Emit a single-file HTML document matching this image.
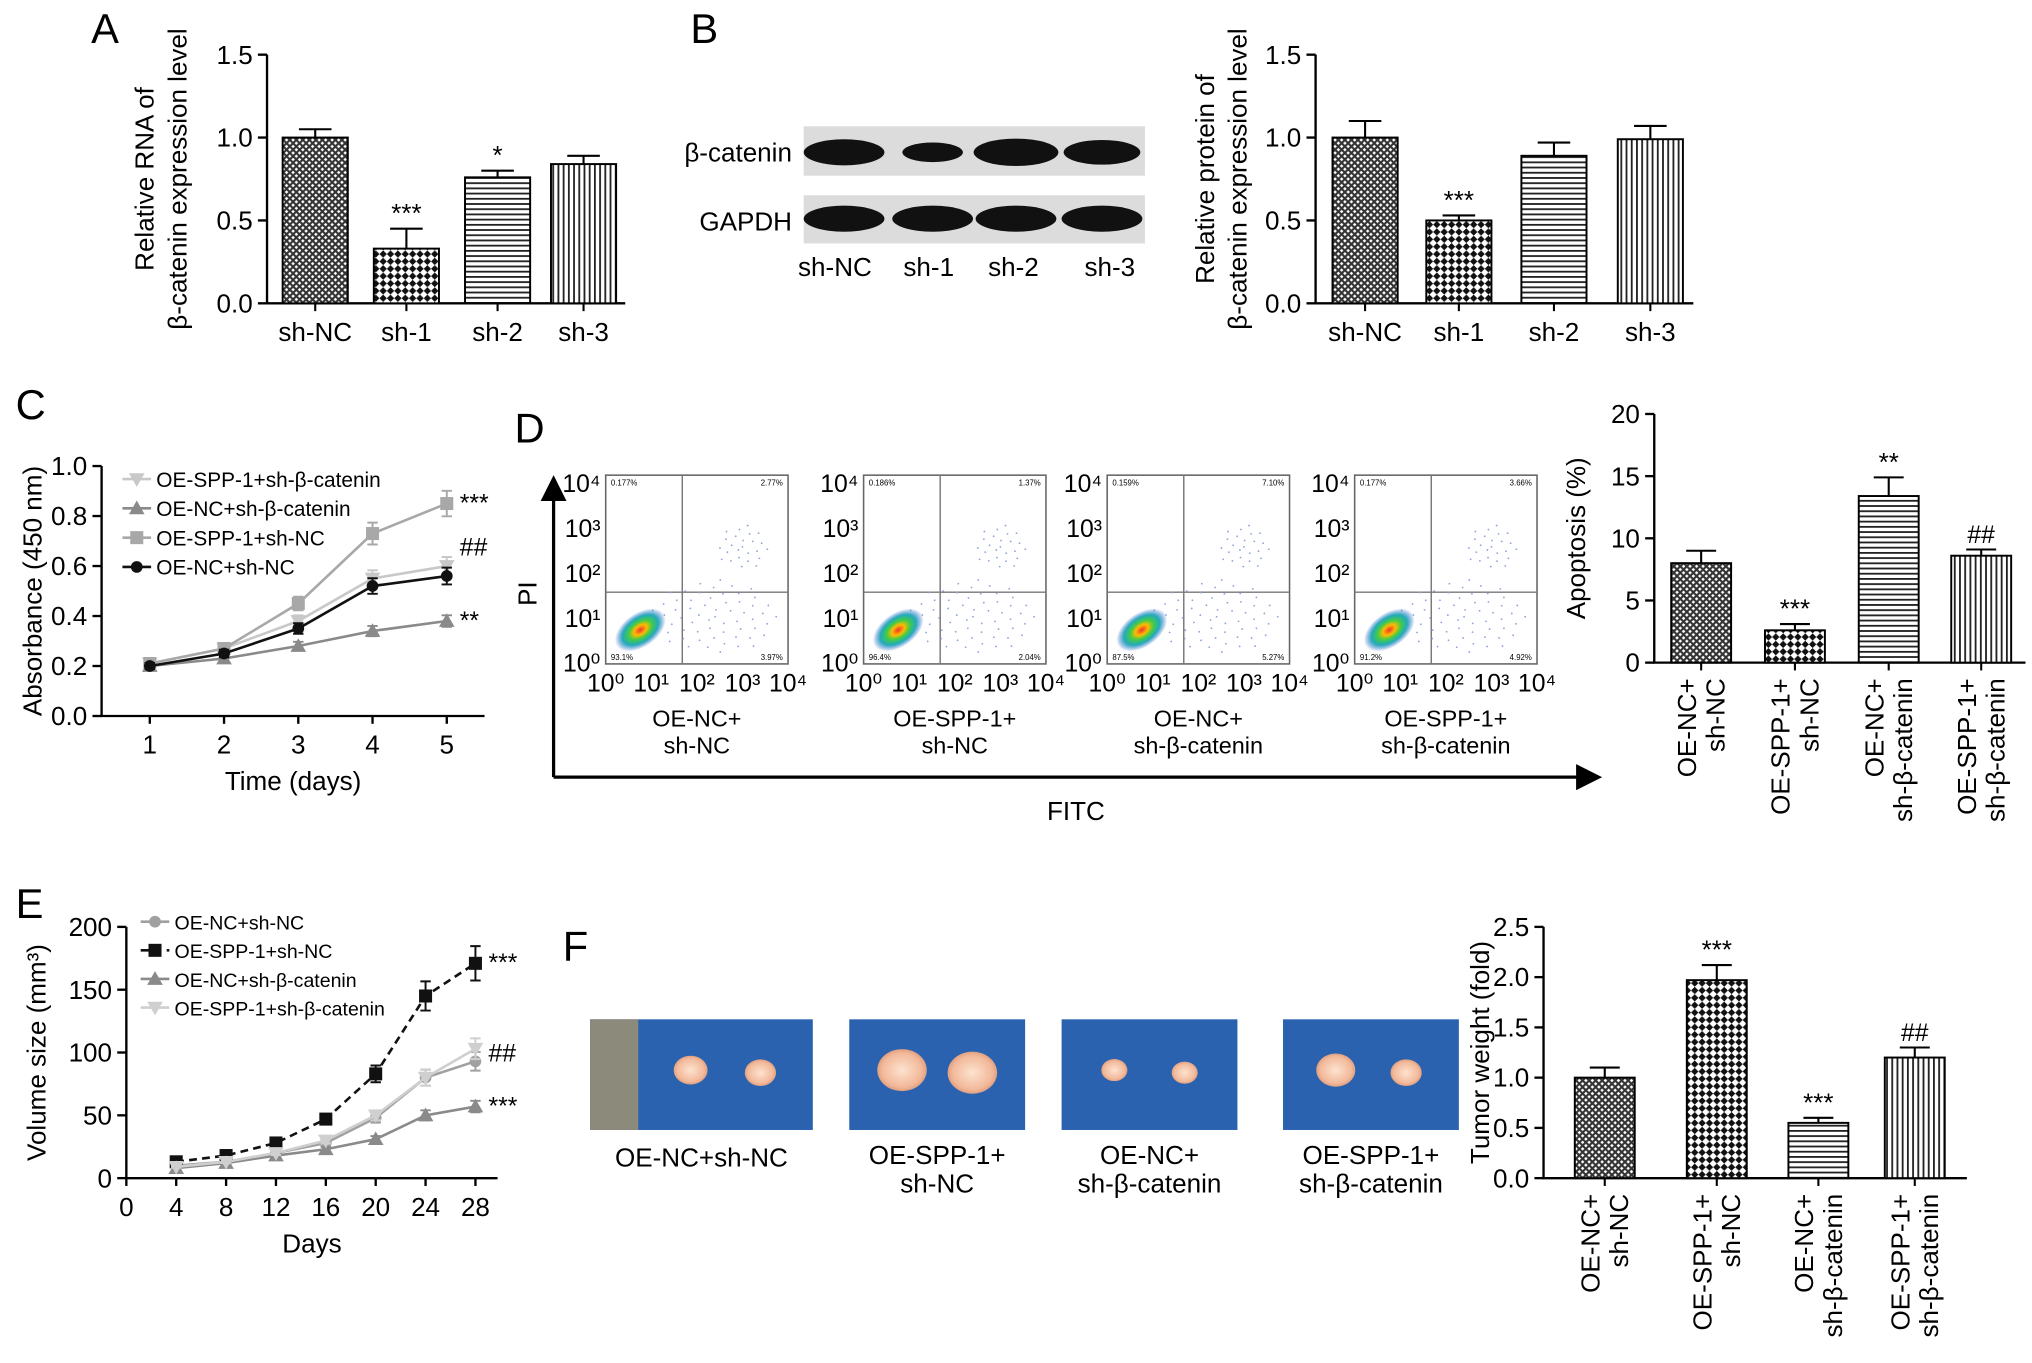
<!DOCTYPE html>
<html><head><meta charset="utf-8"><style>
html,body{margin:0;padding:0;background:#fff;}
svg{display:block;font-family:"Liberation Sans",Arial,sans-serif;}
</style></head><body>
<svg id="fig" width="2032" height="1363" viewBox="0 0 1560 1047" preserveAspectRatio="none" xmlns="http://www.w3.org/2000/svg">
<defs>
<pattern id="pCross" width="5" height="5" patternUnits="userSpaceOnUse"><rect width="5" height="5" fill="#fff"/><path d="M0 0L5 5M5 0L0 5" stroke="#333" stroke-width="1.6"/></pattern>
<pattern id="pCheck" width="8" height="8" patternUnits="userSpaceOnUse" patternTransform="rotate(45)"><rect width="8" height="8" fill="#fff"/><rect width="4" height="4" fill="#111"/><rect x="4" y="4" width="4" height="4" fill="#111"/></pattern>
<pattern id="pHor" width="4" height="4" patternUnits="userSpaceOnUse"><rect width="4" height="4" fill="#fff"/><rect width="4" height="1.4" fill="#222"/></pattern>
<pattern id="pVer" width="4" height="4" patternUnits="userSpaceOnUse"><rect width="4" height="4" fill="#fff"/><rect width="1.4" height="4" fill="#222"/></pattern>
<radialGradient id="gDot"><stop offset="0" stop-color="#e33"/><stop offset="0.25" stop-color="#fb0"/><stop offset="0.45" stop-color="#4c4"/><stop offset="0.7" stop-color="#2ab"/><stop offset="1" stop-color="#36c" stop-opacity="0"/></radialGradient>
<radialGradient id="gTumor"><stop offset="0" stop-color="#fde3d0"/><stop offset="0.8" stop-color="#f2b99a"/><stop offset="1" stop-color="#e0a080"/></radialGradient>
<marker id="arr" markerWidth="8" markerHeight="8" refX="6" refY="4" orient="auto"><path d="M0 0L8 4L0 8Z" fill="#000"/></marker>
</defs>
<g id="root"></g>
</svg>
<script>
// ---- data ----
const catsAB = ["sh-NC","sh-1","sh-2","sh-3"];
const valsA = [1.0, 0.33, 0.76, 0.84];
const errsA = [0.05, 0.12, 0.04, 0.05];
const starsA = ["", "***", "*", ""];
const valsB = [1.0, 0.5, 0.89, 0.99];
const errsB = [0.1, 0.03, 0.08, 0.08];
const starsB = ["", "***", "", ""];
const ticksAB = [0.0, 0.5, 1.0, 1.5];

const daysC = [1,2,3,4,5];
const namesC = ["OE-SPP-1+sh-β-catenin","OE-NC+sh-β-catenin","OE-SPP-1+sh-NC","OE-NC+sh-NC"];
const c_spp_shb = [0.21,0.27,0.38,0.55,0.60];
const c_nc_shb = [0.20,0.23,0.28,0.34,0.38];
const c_spp_shnc = [0.21,0.27,0.45,0.73,0.85];
const c_nc_shnc = [0.20,0.25,0.35,0.52,0.56];
const ticksC = [0.0,0.2,0.4,0.6,0.8,1.0];

const catsD = [["OE-NC+","sh-NC"],["OE-SPP-1+","sh-NC"],["OE-NC+","sh-β-catenin"],["OE-SPP-1+","sh-β-catenin"]];
const valsD = [8.0, 2.6, 13.4, 8.6];
const errsD = [1.0, 0.5, 1.5, 0.5];
const starsD = ["", "***", "**", "##"];
const ticksD = [0,5,10,15,20];
const quadPct = [["0.177%","2.77%","93.1%","3.97%"],["0.186%","1.37%","96.4%","2.04%"],["0.159%","7.10%","87.5%","5.27%"],["0.177%","3.66%","91.2%","4.92%"]];

const daysE = [4,8,12,16,20,24,28];
const namesE = ["OE-NC+sh-NC","OE-SPP-1+sh-NC","OE-NC+sh-β-catenin","OE-SPP-1+sh-β-catenin"];
const e_nc_shnc = [10,13,20,28,48,80,93];
const e_spp_shnc = [13,18,28,47,83,145,171];
const e_nc_shb = [8,12,18,23,31,50,57];
const e_spp_shb = [9,13,20,30,50,80,103];
const ticksEy = [0,50,100,150,200];
const ticksEx = [0,4,8,12,16,20,24,28];

const valsF = [1.0, 1.97, 0.55, 1.2];
const errsF = [0.1, 0.15, 0.05, 0.1];
const starsF = ["", "***", "***", "##"];
const ticksF = [0.0,0.5,1.0,1.5,2.0,2.5];
const pats = ["url(#pCross)","url(#pCheck)","url(#pHor)","url(#pVer)"];

// ---- helpers ----
const NS="http://www.w3.org/2000/svg";
const root=document.getElementById('root');
function mk(tag,a,parent){const e=document.createElementNS(NS,tag);for(const k in a)e.setAttribute(k,a[k]);(parent||root).appendChild(e);return e;}
function txt(x,y,s,size,anchor,parent,extra){const t=mk('text',Object.assign({x:x,y:y,'font-size':size,'text-anchor':anchor||'middle',fill:'#000'},extra||{}),parent);t.textContent=s;return t;}

function label(x,y,s){const t=txt(x,y,s,32,'start');

}

function barChart(name,o){
  const g=mk('g',{});
  
  
  const sy=v=>o.yb-(v-o.min)/(o.max-o.min)*(o.yb-o.yt);
  const ax=mk('path',{d:`M${o.x0} ${o.yt}V${o.yb}H${o.x1}`,stroke:'#000','stroke-width':1.8,fill:'none'},g);
  
  
  o.ticks.forEach(t=>{const y=sy(t);
    mk('line',{x1:o.x0-7,x2:o.x0,y1:y,y2:y,stroke:'#000','stroke-width':1.8},g);
    const tl=txt(o.x0-11,y+7,o.fmt(t),20,'end',g);
    
    });
  o.vals.forEach((v,i)=>{const cx=o.cx[i],w=o.bw;
    const r=mk('rect',{x:cx-w/2,y:sy(v),width:w,height:o.yb-sy(v),fill:pats[i],stroke:'#000','stroke-width':1.5},g);
    
    
    const ye=sy(v+o.errs[i]);
    mk('path',{d:`M${cx} ${sy(v)}V${ye}M${cx-w*0.25} ${ye}H${cx+w*0.25}`,stroke:'#000','stroke-width':1.6,fill:'none'},g);
    if(o.stars[i]){const st=txt(cx,ye-5,o.stars[i],o.stars[i][0]=='#'?19:20,'middle',g);
      
      }
    mk('line',{x1:cx,x2:cx,y1:o.yb,y2:o.yb+6,stroke:'#000','stroke-width':1.6},g);
    if(o.rot){const c=o.cats[i];const tg=mk('g',{transform:`translate(${cx},${o.yb+12}) rotate(-90)`},g);
      const a=txt(0,-4,c[0],20,'end',tg);
      const b=txt(0,18,c[1],20,'end',tg);}
    else{const l=txt(cx,o.yb+29,o.cats[i],20,'middle',g);}
  });
  const tg=mk('g',{transform:`translate(${o.tx},${(o.yt+o.yb)/2}) rotate(-90)`},g);
  o.title.forEach((s,k)=>{const t=txt(0,k*25,s,20,'middle',tg);});
}

function marker(g,type,x,y,fill){
  let e;
  if(type=='circle')e=mk('circle',{cx:x,cy:y,r:4.5,fill:fill},g);
  else if(type=='square')e=mk('rect',{x:x-5,y:y-5,width:10,height:10,fill:fill},g);
  else if(type=='tri')e=mk('path',{d:`M${x} ${y-6}L${x+6} ${y+4.5}L${x-6} ${y+4.5}Z`,fill:fill},g);
  else e=mk('path',{d:`M${x} ${y+6}L${x+6} ${y-4.5}L${x-6} ${y-4.5}Z`,fill:fill},g);
  return e;
}
function lineChart(name,o){
  const g=mk('g',{});
  
  
  const sy=v=>o.yb-(v-o.ymin)/(o.ymax-o.ymin)*(o.yb-o.yt);
  const sx=v=>o.xl+(v-o.xmin)/(o.xmax-o.xmin)*(o.xr-o.xl);
  const ax=mk('path',{d:`M${o.x0} ${o.yt}V${o.yb}H${o.x1}`,stroke:'#000','stroke-width':1.8,fill:'none'},g);
  
  
  o.yticks.forEach(t=>{const y=sy(t);mk('line',{x1:o.x0-7,x2:o.x0,y1:y,y2:y,stroke:'#000','stroke-width':1.8},g);
    const l=txt(o.x0-11,y+7,o.fy(t),20,'end',g);});
  o.xticks.forEach(t=>{const x=sx(t);mk('line',{x1:x,x2:x,y1:o.yb,y2:o.yb+6,stroke:'#000','stroke-width':1.8},g);
    const l=txt(x,o.yb+29,String(t),20,'middle',g);});
  o.series.forEach((s,si)=>{
    const d=s.v.map((v,i)=>(i?'L':'M')+sx(o.xs[i])+' '+sy(v)).join('');
    const p=mk('path',{d:d,stroke:s.c,'stroke-width':2,fill:'none','stroke-dasharray':s.dash||''},g);
    
    
    s.v.forEach((v,i)=>{const x=sx(o.xs[i]),y=sy(v),e=v*o.errF;
      mk('path',{d:`M${x} ${sy(v-e)}V${sy(v+e)}M${x-4} ${sy(v-e)}H${x+4}M${x-4} ${sy(v+e)}H${x+4}`,stroke:s.c,'stroke-width':1.5,fill:'none'},g);
      const m=marker(g,s.m,x,y,s.c);
      
      });
    const ly=o.ly+si*o.ldy;
    mk('line',{x1:o.lx,x2:o.lx+22,y1:ly,y2:ly,stroke:s.c,'stroke-width':2,'stroke-dasharray':s.dash||''},g);
    marker(g,s.m,o.lx+11,ly,s.c);
    const lt=txt(o.lx+26,ly+6,s.n,o.lfs,'start',g);
    
    
    if(s.star){const st=txt(sx(o.xs[s.v.length-1])+10,sy(s.v[s.v.length-1])+6+(s.soff||0),s.star,19,'start',g);
      
      }
  });
  const tg=mk('g',{transform:`translate(${o.tx},${(o.yt+o.yb)/2}) rotate(-90)`},g);
  const t=txt(0,0,o.ytitle,20,'middle',tg);
  const xt=txt((o.x0+o.x1)/2,o.yb+57,o.xtitle,20,'middle',g);
}

// ---- Panel A ----
label(70,33,'A');
barChart('chart-a-rna',{x0:205,x1:480,yt:42,yb:233,min:0,max:1.5,ticks:ticksAB,fmt:t=>t.toFixed(1),cx:[242,312,382,448],bw:50,vals:valsA,errs:errsA,stars:starsA,cats:catsAB,tx:118,title:['Relative RNA of','β-catenin expression level']});

// ---- Panel B ----
label(530,33,'B');
(function(){
  const g=mk('g',{});
  
  
  mk('rect',{x:617,y:97,width:262,height:38,fill:'#dcdcdc'},g);
  mk('rect',{x:617,y:150,width:262,height:37,fill:'#dcdcdc'},g);
  const lanes=[648,716,780,846], w1=[1,0.75,1.05,0.95];
  lanes.forEach((x,i)=>{mk('ellipse',{cx:x,cy:117,rx:31*w1[i],ry:10*w1[i],fill:'#111'},g);
    mk('ellipse',{cx:x,cy:168,rx:31,ry:10,fill:'#111'},g);});
  txt(608,124,'β-catenin',20,'end',g);
  txt(608,177,'GAPDH',20,'end',g);
  ['sh-NC','sh-1','sh-2','sh-3'].forEach((s,i)=>txt([641,713,778,852][i],212,s,20,'middle',g));
})();
barChart('chart-b-protein',{x0:1010,x1:1300,yt:42,yb:233,min:0,max:1.5,ticks:ticksAB,fmt:t=>t.toFixed(1),cx:[1048,1120,1193,1267],bw:50,vals:valsB,errs:errsB,stars:starsB,cats:catsAB,tx:932,title:['Relative protein of','β-catenin expression level']});

// ---- Panel C ----
label(12,322,'C');
lineChart('chart-c-absorbance',{x0:78,x1:372,yt:358,yb:550,ymin:0,ymax:1,yticks:ticksC,fy:t=>t.toFixed(1),xs:daysC,xmin:1,xmax:5,xl:115,xr:343,xticks:daysC,errF:0.06,
  series:[{n:namesC[0],v:c_spp_shb,c:'#c8c8c8',m:'inv',star:'##',soff:-14},{n:namesC[1],v:c_nc_shb,c:'#8a8a8a',m:'tri',star:'**'},{n:namesC[2],v:c_spp_shnc,c:'#a8a8a8',m:'square',star:'***'},{n:namesC[3],v:c_nc_shnc,c:'#111',m:'circle'}],
  lx:94,ly:368,ldy:22.5,lfs:16,tx:32,ytitle:'Absorbance (450 nm)',xtitle:'Time (days)'});

// ---- Panel D ----
label(395,340,'D');
(function(){
  const g=mk('g',{});
  
  
  mk('line',{x1:425,y1:597,x2:425,y2:370,stroke:'#000','stroke-width':2.5,'marker-end':'url(#arr)'},g);
  mk('line',{x1:425,y1:597,x2:1225,y2:597,stroke:'#000','stroke-width':2.5,'marker-end':'url(#arr)'},g);
  const pi=mk('g',{transform:'translate(412,456) rotate(-90)'},g);txt(0,0,'PI',20,'middle',pi);
  txt(826,630,'FITC',20,'middle',g);
  const boxes=[465,663,850,1040];
  const sup=['⁰','¹','²','³','⁴'];
  boxes.forEach((bx,k)=>{
    const w=140,yt=365,yb=510;
    const pg=mk('g',{},g);
    
    
    mk('rect',{x:bx,y:yt,width:w,height:yb-yt,fill:'#fff',stroke:'#666','stroke-width':1.2},pg);
    const qx=bx+w*0.42,qy=yt+(yb-yt)*0.62;
    mk('path',{d:`M${qx} ${yt}V${yb}M${bx} ${qy}H${bx+w}`,stroke:'#777','stroke-width':1.1},pg);
    for(let i=0;i<60;i++){const a=i*2.399, r=Math.sqrt(i/60);
      mk('circle',{cx:bx+w*0.6+r*w*0.35*Math.cos(a),cy:yt+(yb-yt)*0.75+r*(yb-yt)*0.2*Math.sin(a),r:0.7,fill:'#8fa3d8'},pg);}
    for(let i=0;i<25;i++){const a=i*2.399, r=Math.sqrt(i/25);
      mk('circle',{cx:bx+w*0.75+r*w*0.15*Math.cos(a),cy:yt+(yb-yt)*0.38+r*(yb-yt)*0.12*Math.sin(a),r:0.7,fill:'#8fa3d8'},pg);}
    mk('ellipse',{cx:bx+w*0.19,cy:yt+(yb-yt)*0.82,rx:22,ry:13,fill:'url(#gDot)',transform:`rotate(-35 ${bx+w*0.19} ${yt+(yb-yt)*0.82})`},pg);
    const pc=quadPct[k];
    txt(bx+4,yt+8,pc[0],6,'start',pg);txt(bx+w-4,yt+8,pc[1],6,'end',pg);
    txt(bx+4,yb-3,pc[2],6,'start',pg);txt(bx+w-4,yb-3,pc[3],6,'end',pg);
    for(let i=0;i<5;i++){const y=yb-i*(yb-yt)/4.2;
      txt(bx-4,y+6,'10'+sup[i],19,'end',pg);
      const x=bx+i*w/4;txt(x,yb+21,'10'+sup[i],19,'middle',pg);}
    const c=catsD[k];
    const l1=txt(bx+w/2,yb+48,c[0],18,'middle',pg);
    txt(bx+w/2,yb+69,c[1],18,'middle',pg);
  });
})();
barChart('chart-d-apoptosis',{x0:1270,x1:1555,yt:318,yb:509,min:0,max:20,ticks:ticksD,fmt:t=>String(t),cx:[1306,1378,1450,1521],bw:46,vals:valsD,errs:errsD,stars:starsD,cats:catsD,rot:true,tx:1217,title:['Apoptosis (%)']});

// ---- Panel E ----
label(12,705,'E');
lineChart('chart-e-volume',{x0:97,x1:382,yt:712,yb:905,ymin:0,ymax:200,yticks:ticksEy,fy:t=>String(t),xs:daysE,xmin:0,xmax:28,xl:97,xr:365,xticks:ticksEx,errF:0.08,
  series:[{n:namesE[0],v:e_nc_shnc,c:'#a0a0a0',m:'circle',star:'##',soff:-6},{n:namesE[1],v:e_spp_shnc,c:'#111',m:'square',dash:'6 4',star:'***'},{n:namesE[2],v:e_nc_shb,c:'#8a8a8a',m:'tri',star:'***'},{n:namesE[3],v:e_spp_shb,c:'#cfcfcf',m:'inv'}],
  lx:108,ly:708,ldy:22,lfs:15,tx:35,ytitle:'Volume size (mm³)',xtitle:'Days'});

// ---- Panel F ----
label(432,738,'F');
(function(){
  const g=mk('g',{});
  
  
  const ph=[[453,624,'OE-NC+sh-NC',''],[652,787,'OE-SPP-1+','sh-NC'],[815,950,'OE-NC+','sh-β-catenin'],[985,1120,'OE-SPP-1+','sh-β-catenin']];
  const sz=[[13,12],[19,19],[10,10],[15,12]];
  ph.forEach((p,i)=>{
    mk('rect',{x:p[0],y:783,width:p[1]-p[0],height:85,fill:'#2a62b0'},g);
    if(i==0)mk('rect',{x:453,y:783,width:37,height:85,fill:'#8c8a7a'},g);
    const x0=i==0?490:p[0],w=p[1]-x0;
    mk('ellipse',{cx:x0+w*0.3,cy:822,rx:sz[i][0],ry:sz[i][0]*0.85,fill:'url(#gTumor)'},g);
    mk('ellipse',{cx:x0+w*0.7,cy:824,rx:sz[i][1],ry:sz[i][1]*0.85,fill:'url(#gTumor)'},g);
    const cx=(p[0]+p[1])/2;
    txt(cx,p[3]?894:896,p[2],20,'middle',g);
    if(p[3])txt(cx,916,p[3],20,'middle',g);
  });
})();
barChart('chart-f-weight',{x0:1185,x1:1510,yt:712,yb:905,min:0,max:2.5,ticks:ticksF,fmt:t=>t.toFixed(1),cx:[1232,1318,1396,1470],bw:46,vals:valsF,errs:errsF,stars:starsF,cats:catsD,rot:true,tx:1143,title:['Tumor weight (fold)']});
</script>
</body></html>
